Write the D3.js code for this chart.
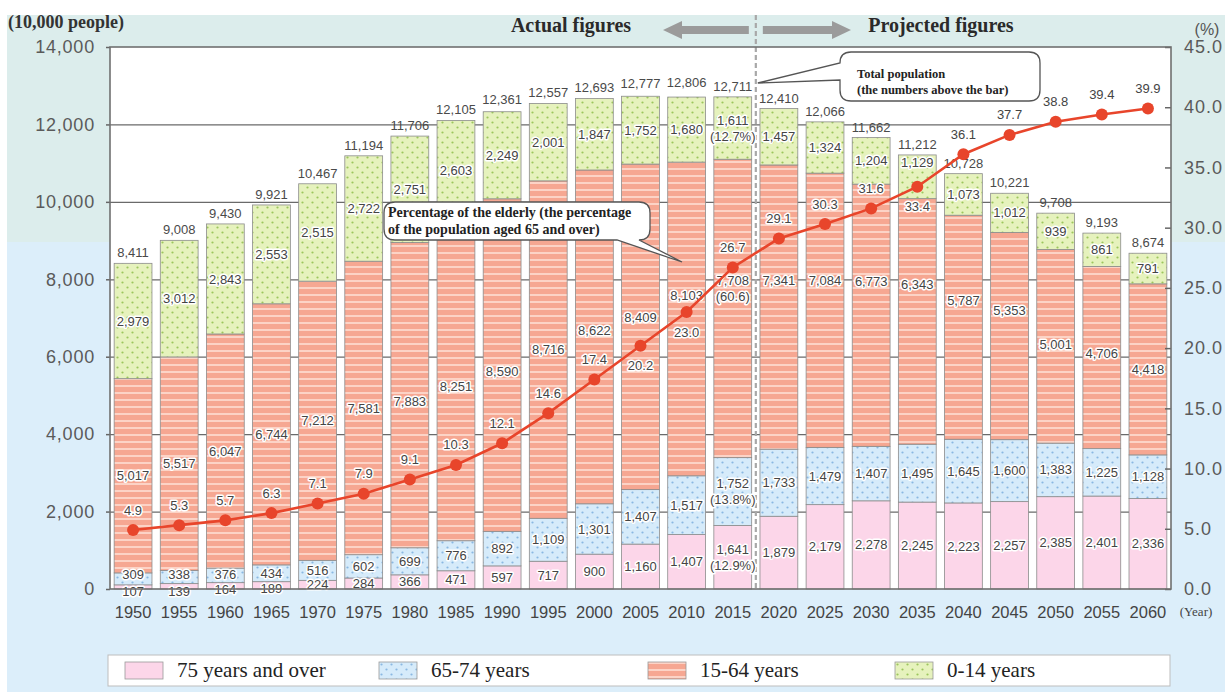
<!DOCTYPE html>
<html>
<head>
<meta charset="utf-8">
<script src="https://cdn.jsdelivr.net/npm/d3@7"></script>
<style>
  body { margin: 0; background: #fff; }
  svg { display: block; }
</style>
</head>
<body>
<svg id="chart" width="1225" height="692"></svg>
<script>
// Population of Japan by age group, actual (to 2015) and projected (2020 on), in units of 10,000 people
const years = [1950, 1955, 1960, 1965, 1970, 1975, 1980, 1985, 1990, 1995, 2000, 2005, 2010,
               2015, 2020, 2025, 2030, 2035, 2040, 2045, 2050, 2055, 2060];
const age75plus = [107, 139, 164, 189, 224, 284, 366, 471, 597, 717, 900, 1160, 1407,
                   1641, 1879, 2179, 2278, 2245, 2223, 2257, 2385, 2401, 2336];
const age65to74 = [309, 338, 376, 434, 516, 602, 699, 776, 892, 1109, 1301, 1407, 1517,
                   1752, 1733, 1479, 1407, 1495, 1645, 1600, 1383, 1225, 1128];
const age15to64 = [5017, 5517, 6047, 6744, 7212, 7581, 7883, 8251, 8590, 8716, 8622, 8409, 8103,
                   7708, 7341, 7084, 6773, 6343, 5787, 5353, 5001, 4706, 4418];
const age0to14 = [2979, 3012, 2843, 2553, 2515, 2722, 2751, 2603, 2249, 2001, 1847, 1752, 1680,
                  1611, 1457, 1324, 1204, 1129, 1073, 1012, 939, 861, 791];
const totals = [8411, 9008, 9430, 9921, 10467, 11194, 11706, 12105, 12361, 12557, 12693, 12777, 12806,
                12711, 12410, 12066, 11662, 11212, 10728, 10221, 9708, 9193, 8674];
// share of the elderly (aged 65 and over), %
const elderlyPct = [4.9, 5.3, 5.7, 6.3, 7.1, 7.9, 9.1, 10.3, 12.1, 14.6, 17.4, 20.2, 23.0,
                    26.7, 29.1, 30.3, 31.6, 33.4, 36.1, 37.7, 38.8, 39.4, 39.9];
// composition in the last actual year (2015), %
const shareYear = 2015;
const shares2015 = [12.9, 13.8, 60.6, 12.7];
const shareSuffix = ["%", "%", "", "%"];

const peopleTicks = [0, 2000, 4000, 6000, 8000, 10000, 12000, 14000];
const pctTicks = [0, 5, 10, 15, 20, 25, 30, 35, 40, 45];
const seriesKeys = ["age75plus", "age65to74", "age15to64", "age0to14"];
const seriesNames = ["75 years and over", "65-74 years", "15-64 years", "0-14 years"];

// ---- layout ----
const plot = { left: 110, right: 1171, top: 47, bottom: 589 };
const sans = "'Liberation Sans', Arial, sans-serif";
const serif = "'Liberation Serif', 'Times New Roman', serif";

// vertical nudges (px) for segment labels that would collide with the line or its labels
const labelNudge = {
  age75plus: { 1950: 5, 1955: 5, 1960: 4, 1965: 3 },
  age65to74: { 1950: -4, 1955: -3, 1960: -1 },
  age15to64: { 1980: 6, 1985: 5, 1990: 6, 2000: -6, 2005: -9, 2010: -23, 2015: -20, 2020: -27,
               2025: -30, 2030: -34, 2035: -37, 2040: -27, 2045: -26, 2050: -2, 2055: -4 },
  age0to14: { 2035: -14 }
};
// years whose percentage label sits under the marker
const pctBelow = new Set([2005, 2010, 2035]);

const svg = d3.select("#chart");
const defs = svg.append("defs");

// dotted fill for 0-14
const pGreen = defs.append("pattern").attr("id", "dotsGreen").attr("patternUnits", "userSpaceOnUse")
  .attr("width", 10).attr("height", 10);
pGreen.append("rect").attr("width", 10).attr("height", 10).attr("fill", "#e6f2bd");
pGreen.append("circle").attr("cx", 2.5).attr("cy", 2.5).attr("r", 1.1).attr("fill", "#9cc65c");
pGreen.append("circle").attr("cx", 7.5).attr("cy", 7.5).attr("r", 1.1).attr("fill", "#9cc65c");

// dotted fill for 65-74
const pBlue = defs.append("pattern").attr("id", "dotsBlue").attr("patternUnits", "userSpaceOnUse")
  .attr("width", 10).attr("height", 10);
pBlue.append("rect").attr("width", 10).attr("height", 10).attr("fill", "#d6ebfa");
pBlue.append("circle").attr("cx", 2.5).attr("cy", 2.5).attr("r", 1.1).attr("fill", "#8ab8e2");
pBlue.append("circle").attr("cx", 7.5).attr("cy", 7.5).attr("r", 1.1).attr("fill", "#8ab8e2");

// striped fill for 15-64
const pStripe = defs.append("pattern").attr("id", "stripes").attr("patternUnits", "userSpaceOnUse")
  .attr("width", 8).attr("height", 7);
pStripe.append("rect").attr("width", 8).attr("height", 7).attr("fill", "#f6a792");
pStripe.append("rect").attr("y", 0).attr("width", 8).attr("height", 2).attr("fill", "#fcd3c6");

const fills = {
  age75plus: "#fcd6e9",
  age65to74: "url(#dotsBlue)",
  age15to64: "url(#stripes)",
  age0to14: "url(#dotsGreen)"
};

// ---- background panels ----
svg.append("rect").attr("width", 1225).attr("height", 692).attr("fill", "#fff");
svg.append("rect").attr("x", 7).attr("y", 15).attr("width", 1218).attr("height", 227).attr("fill", "#dcedec");
svg.append("rect").attr("x", 7).attr("y", 242).attr("width", 1218).attr("height", 450).attr("fill", "#dceefa");
svg.append("rect").attr("x", plot.left).attr("y", plot.top)
  .attr("width", plot.right - plot.left).attr("height", plot.bottom - plot.top).attr("fill", "#fff");

// ---- scales ----
const x = d3.scaleBand().domain(years).range([plot.left, plot.right]).paddingInner(0.18).paddingOuter(0.09);
const bw = x.bandwidth();
const y = d3.scaleLinear().domain([0, 14000]).range([plot.bottom, plot.top]);
const yPct = d3.scaleLinear().domain([0, 45]).range([plot.bottom, plot.top]);

// ---- gridlines ----
svg.append("g").attr("transform", `translate(${plot.left},0)`)
  .call(d3.axisLeft(y).tickValues(peopleTicks.slice(1, -1)).tickSize(-(plot.right - plot.left)).tickFormat(""))
  .call(g => g.select(".domain").remove())
  .call(g => g.selectAll("line").attr("stroke", "#6a6a6a").attr("stroke-width", 1.2));

// ---- stacked bars ----
const table = years.map((yr, i) => ({
  year: yr, age75plus: age75plus[i], age65to74: age65to74[i], age15to64: age15to64[i], age0to14: age0to14[i]
}));
const stacked = d3.stack().keys(seriesKeys)(table);

const layers = svg.append("g").selectAll("g").data(stacked).join("g")
  .attr("fill", d => fills[d.key]);
layers.selectAll("rect").data(d => d).join("rect")
  .attr("x", d => x(d.data.year))
  .attr("y", d => y(d[1]))
  .attr("width", bw)
  .attr("height", d => y(d[0]) - y(d[1]))
  .attr("stroke", "#8c8c8c").attr("stroke-width", 0.8);

// separator between actual and projected figures
const xSep = (x(2015) + bw + x(2020)) / 2;
svg.append("line").attr("x1", xSep).attr("x2", xSep).attr("y1", 15).attr("y2", plot.bottom)
  .attr("stroke", "#a8a8a8").attr("stroke-width", 2.2).attr("stroke-dasharray", "5,3");

// ---- segment value labels ----
const fmt = d3.format(",");
const labelG = svg.append("g").attr("font-family", sans).attr("font-size", 13).attr("fill", "#444")
  .attr("text-anchor", "middle").attr("stroke", "#fff").attr("stroke-width", 3)
  .attr("stroke-linejoin", "round").attr("paint-order", "stroke");

stacked.forEach((layer, li) => {
  layer.forEach(d => {
    const yr = d.data.year;
    const nudge = (labelNudge[layer.key] || {})[yr] || 0;
    const cy = (y(d[0]) + y(d[1])) / 2 + nudge;
    const cx = x(yr) + bw / 2;
    const value = d.data[layer.key];
    if (yr === shareYear) {
      const t = labelG.append("text").attr("x", cx).attr("y", cy - 8).attr("dy", "0.35em");
      t.append("tspan").attr("x", cx).text(fmt(value));
      t.append("tspan").attr("x", cx).attr("dy", 16).text(`(${shares2015[li].toFixed(1)}${shareSuffix[li]})`);
    } else {
      labelG.append("text").attr("x", cx).attr("y", cy).attr("dy", "0.35em").text(fmt(value));
    }
  });
});

// ---- totals above the bars ----
svg.append("g").attr("font-family", sans).attr("font-size", 13).attr("fill", "#4a4a4a")
  .attr("text-anchor", "middle")
  .selectAll("text").data(years).join("text")
  .attr("x", d => x(d) + bw / 2)
  .attr("y", (d, i) => y(totals[i]) - 6)
  .text((d, i) => fmt(totals[i]));

// ---- elderly percentage line ----
const pts = years.map((yr, i) => ({ year: yr, v: elderlyPct[i] }));
svg.append("path").datum(pts)
  .attr("fill", "none").attr("stroke", "#e8452b").attr("stroke-width", 2.6)
  .attr("d", d3.line().x(d => x(d.year) + bw / 2).y(d => yPct(d.v)));
svg.append("g").selectAll("circle").data(pts).join("circle")
  .attr("cx", d => x(d.year) + bw / 2).attr("cy", d => yPct(d.v)).attr("r", 6).attr("fill", "#e8452b");
svg.append("g").attr("font-family", sans).attr("font-size", 13).attr("fill", "#444")
  .attr("text-anchor", "middle").attr("stroke", "#fff").attr("stroke-width", 3)
  .attr("stroke-linejoin", "round").attr("paint-order", "stroke")
  .selectAll("text").data(pts).join("text")
  .attr("x", d => x(d.year) + bw / 2)
  .attr("y", d => yPct(d.v) + (pctBelow.has(d.year) ? 20 : -20))
  .attr("dy", "0.35em")
  .text(d => d.v.toFixed(1));

// ---- axes ----
const leftAxis = svg.append("g").attr("transform", `translate(${plot.left},0)`)
  .call(d3.axisLeft(y).tickValues(peopleTicks).tickSize(4).tickPadding(11).tickFormat(fmt));
leftAxis.selectAll("text").attr("font-family", sans).attr("font-size", 18).attr("fill", "#5a5a5a")
  .attr("letter-spacing", 0.8);

const rightAxis = svg.append("g").attr("transform", `translate(${plot.right},0)`)
  .call(d3.axisRight(yPct).tickValues(pctTicks).tickSize(-6).tickPadding(13).tickFormat(d3.format(".1f")));
rightAxis.selectAll("text").attr("font-family", sans).attr("font-size", 18).attr("fill", "#5a5a5a")
  .attr("letter-spacing", 1);

const bottomAxis = svg.append("g").attr("transform", `translate(0,${plot.bottom})`)
  .call(d3.axisBottom(x).tickSize(0).tickPadding(17));
bottomAxis.selectAll("text").attr("font-family", sans).attr("font-size", 16.5).attr("fill", "#444");
bottomAxis.select(".domain").remove();

[leftAxis, rightAxis].forEach(g => {
  g.select(".domain").remove();
  g.selectAll("line").attr("stroke", "#666").attr("stroke-width", 1.5);
});

// plot frame
svg.append("rect").attr("x", plot.left).attr("y", plot.top)
  .attr("width", plot.right - plot.left).attr("height", plot.bottom - plot.top)
  .attr("fill", "none").attr("stroke", "#707070").attr("stroke-width", 1.6);

// ---- titles and units ----
svg.append("text").attr("x", 8).attr("y", 28).attr("font-family", serif).attr("font-weight", "bold")
  .attr("font-size", 18).attr("fill", "#333").text("(10,000 people)");
svg.append("text").attr("x", 1207).attr("y", 35).attr("text-anchor", "middle").attr("font-family", sans)
  .attr("font-size", 16).attr("fill", "#555").text("(%)");
svg.append("text").attr("x", 1196).attr("y", 616).attr("text-anchor", "middle").attr("font-family", serif)
  .attr("font-size", 13).attr("fill", "#444").text("(Year)");

svg.append("text").attr("x", 571).attr("y", 32).attr("text-anchor", "middle").attr("font-family", serif)
  .attr("font-weight", "bold").attr("font-size", 20).attr("fill", "#2a2a2a").text("Actual figures");
svg.append("text").attr("x", 941).attr("y", 32).attr("text-anchor", "middle").attr("font-family", serif)
  .attr("font-weight", "bold").attr("font-size", 20).attr("fill", "#2a2a2a").text("Projected figures");

// direction arrows
const arrowY = 30;
svg.append("path").attr("fill", "#9b9b9b")
  .attr("d", `M${xSep - 7},${arrowY - 4} H682 V${arrowY - 9} L663,${arrowY} L682,${arrowY + 9} V${arrowY + 4} H${xSep - 7} Z`);
svg.append("path").attr("fill", "#9b9b9b")
  .attr("d", `M${xSep + 7},${arrowY - 4} H832 V${arrowY - 9} L851,${arrowY} L832,${arrowY + 9} V${arrowY + 4} H${xSep + 7} Z`);

// ---- callouts ----
function bubblePath(x0, y0, x1, y1, r, tailSide) {
  return `M${x0 + r},${y0} H${x1 - r} Q${x1},${y0} ${x1},${y0 + r} V${y1 - r} Q${x1},${y1} ${x1 - r},${y1}` +
    tailSide.bottom + ` H${x0 + r} Q${x0},${y1} ${x0},${y1 - r}` + tailSide.left +
    ` V${y0 + r} Q${x0},${y0} ${x0 + r},${y0} Z`;
}
// total population bubble, tail on the left edge
svg.append("path").attr("fill", "#fff").attr("stroke", "#555").attr("stroke-width", 1.3)
  .attr("d", bubblePath(840, 52, 1040, 101, 11, { bottom: "", left: ` V80 L${xSep + 2},83 L840,63` }));
svg.append("text").attr("font-family", serif).attr("font-weight", "bold").attr("font-size", 12.5)
  .attr("fill", "#222")
  .call(t => {
    t.append("tspan").attr("x", 857).attr("y", 78).text("Total population");
    t.append("tspan").attr("x", 857).attr("y", 94).text("(the numbers above the bar)");
  });

// elderly share bubble, tail from the bottom edge
svg.append("path").attr("fill", "#fff").attr("stroke", "#555").attr("stroke-width", 1.3)
  .attr("d", bubblePath(384, 202, 650, 240, 11, { bottom: " L682,262 L617,240", left: "" }));
svg.append("text").attr("font-family", serif).attr("font-weight", "bold").attr("font-size", 14)
  .attr("fill", "#222")
  .call(t => {
    t.append("tspan").attr("x", 388).attr("y", 217).text("Percentage of the elderly (the percentage");
    t.append("tspan").attr("x", 388).attr("y", 234).text("of the population aged 65 and over)");
  });

// ---- legend ----
const legend = svg.append("g");
legend.append("rect").attr("x", 108).attr("y", 655).attr("width", 1062).attr("height", 31)
  .attr("fill", "#fff").attr("stroke", "#bdbdbd");
const legendX = [125, 379, 648, 895];
const legendItems = legend.selectAll("g").data(seriesKeys).join("g")
  .attr("transform", (d, i) => `translate(${legendX[i]},662)`);
legendItems.append("rect").attr("width", 38).attr("height", 17)
  .attr("fill", d => fills[d]).attr("stroke", "#999").attr("stroke-width", 0.8);
legendItems.append("text").attr("x", 52).attr("y", 15).attr("font-family", serif).attr("font-size", 21)
  .attr("fill", "#222").text((d, i) => seriesNames[i]);
</script>
</body>
</html>
